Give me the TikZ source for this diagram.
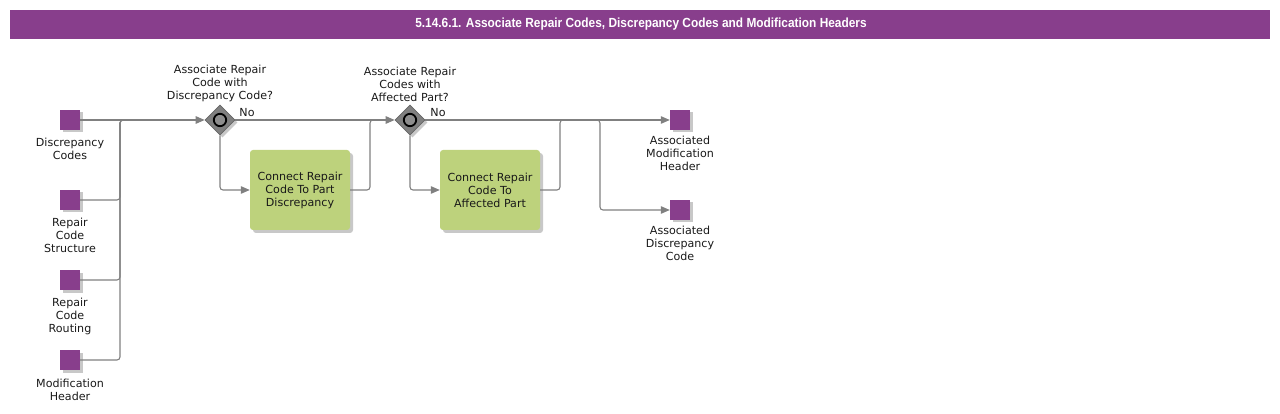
\documentclass[tikz,border=0pt]{standalone}
\usepackage{fontspec}
\setmainfont{DejaVu Sans}
\newfontfamily\titlefont[FakeStretch=0.9]{Liberation Sans}
\usetikzlibrary{arrows.meta,shapes.geometric}
\definecolor{bpurple}{HTML}{883E8C}
\definecolor{tgreen}{HTML}{BDD27C}
\definecolor{lgray}{HTML}{808080}
\definecolor{shad}{HTML}{C8C8C8}
\tikzset{
  every node/.style={font=\fontsize{11.1}{13}\selectfont, text=black!90},
  dataobj/.style={draw=none, fill=bpurple, minimum size=20pt, inner sep=0pt},
  datashadow/.style={fill=shad, minimum size=20pt, inner sep=0pt, draw=none},
  lbl/.style={align=center, inner sep=0pt},
  task/.style={fill=tgreen, rounded corners=3pt, minimum width=100pt, minimum height=80pt, align=center, inner sep=0pt},
  taskshadow/.style={fill=shad, rounded corners=3pt, minimum width=100pt, minimum height=80pt, inner sep=0pt},
  gw/.style={diamond, fill=lgray, draw=black!60, line width=0.6pt, minimum width=30pt, minimum height=30pt, inner sep=0pt},
  gwshadow/.style={diamond, fill=shad, minimum width=30pt, minimum height=30pt, inner sep=0pt},
  line/.style={draw=lgray, line width=1.1pt, rounded corners=3pt},
  flow/.style={line, -{Triangle[length=9pt,width=7.5pt]}},
}
\begin{document}
\begin{tikzpicture}[x=1pt,y=-1pt]
\useasboundingbox (0,0) rectangle (1280,414);
% title bar
\fill[bpurple] (10,10) rectangle (1270,39);
\node[font=\titlefont\bfseries\fontsize{13.2}{15}\selectfont, text=white] (title) at (641,24.5) {5.14.6.1. Associate Repair Codes, Discrepancy Codes and Modification Headers};

% data inputs
\foreach \n/\y in {dc/120, rcs/200, rcr/280, mh/360}{
  \node[datashadow] at (72.5,\y+2.5) {};
  \node[dataobj] (\n) at (70,\y) {};
}
\node[lbl, anchor=north] (dcl) at (70,138) {Discrepancy\\Codes};
\node[lbl, anchor=north] (rcsl) at (70,218) {Repair\\Code\\Structure};
\node[lbl, anchor=north] (rcrl) at (70,298) {Repair\\Code\\Routing};
\node[lbl, anchor=north] (mhl) at (70,379) {Modification\\Header};

% gateways
\node[gwshadow] at (222.5,122.5) {};
\node[gw] (g1) at (220,120) {};
\draw[black, line width=1.8pt, fill=lgray!90] (g1.center) circle (6.2pt);
\node[lbl, anchor=south] (g1l) at (220,102) {Associate Repair\\Code with\\Discrepancy Code?};
\node[lbl] (no1) at (247,113) {No};

\node[gwshadow] at (412.5,122.5) {};
\node[gw] (g2) at (410,120) {};
\draw[black, line width=1.8pt, fill=lgray!90] (g2.center) circle (6.2pt);
\node[lbl, anchor=south] (g2l) at (410,102) {Associate Repair\\Codes with\\Affected Part?};
\node[lbl] (no2) at (438,113) {No};

% tasks
\node[taskshadow] at (303,193) {};
\node[task] (t1) at (300,190) {Connect Repair\\Code To Part\\Discrepancy};
\node[taskshadow] at (493,193) {};
\node[task] (t2) at (490,190) {Connect Repair\\Code To\\Affected Part};

% outputs
\node[datashadow] at (682.5,122.5) {};
\node[dataobj] (amh) at (680,120) {};
\node[lbl, anchor=north] (amhl) at (680,136) {Associated\\Modification\\Header};
\node[datashadow] at (682.5,212.5) {};
\node[dataobj] (adc) at (680,210) {};
\node[lbl, anchor=north] (adcl) at (680,226) {Associated\\Discrepancy\\Code};

% joins
\coordinate (j1) at (120,120);
\coordinate (j2) at (370,120);
\coordinate (j3) at (560,120);
\coordinate (j4) at (600,120);

% connectors
\draw[flow] (dc.east) -- (g1.west);
\draw[line] (rcs.east) -| (j1) -- ++(5,0);
\draw[line] (rcr.east) -| (j1) -- ++(5,0);
\draw[line] (mh.east) -| (j1) -- ++(5,0);

\draw[flow] (g1.south) |- (t1.west);
\draw[flow] (g1.east) -- (g2.west);
\draw[line] (t1.east) -| (j2) -- ++(5,0);

\draw[flow] (g2.south) |- (t2.west);
\draw[flow] (g2.east) -- (amh.west);
\draw[line] (t2.east) -| (j3) -- ++(5,0);
\draw[flow] ([xshift=-5pt]j4) -- (j4) |- (adc.west);
\end{tikzpicture}
\end{document}
